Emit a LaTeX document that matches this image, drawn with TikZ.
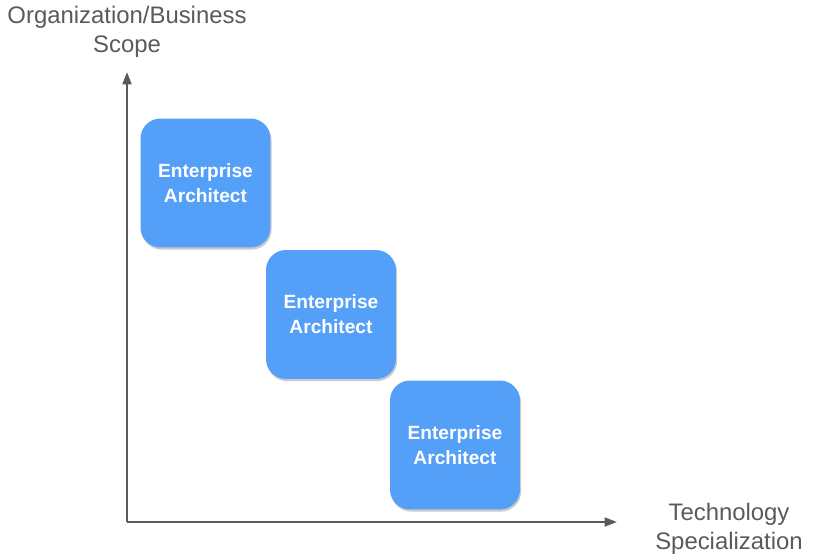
\documentclass[tikz,border=0pt]{standalone}
\usepackage{fontspec}
\setmainfont{Liberation Sans}
\usepackage{xcolor}
\definecolor{role}{RGB}{84,159,248}
\definecolor{axis}{RGB}{90,90,90}
\usepackage{tikz}
\usetikzlibrary{
    arrows.meta,
    positioning,
    shadows
}

\begin{document}
\begin{tikzpicture}[
        x=0.02cm, y=-0.02cm,
        rolebox/.style={rectangle, rounded corners=0.4cm, fill=role, text=white, minimum width=2.6cm, minimum height=2.58cm, align=center, font=\fontsize{10.9}{14.2}\selectfont\bfseries, drop shadow={shadow xshift=0.6pt, shadow yshift=-1.2pt, opacity=0.35, fill=black!60}},
        axislabel/.style={text=axis, align=center, font=\fontsize{13.6}{16.4}\selectfont}
    ]
        \useasboundingbox (0,0) rectangle (816,558);

        \coordinate (origin) at (127,522);
        \coordinate (ytip) at (127,72);
        \coordinate (xtip) at (617,522);

        \draw[-{Triangle[length=7pt, width=5pt]}, axis, line width=1.3pt] (origin) -- (ytip);
        \draw[-{Triangle[length=7pt, width=5pt]}, axis, line width=1.3pt] (origin) -- (xtip);

        \node[axislabel] (scope) at (127,32) {Organization/Business\\Scope};
        \node[axislabel] (tech) at (729,528.5) {Technology\\Specialization};

        \node[rolebox] (ea1) at (205.5,183) {Enterprise\\Architect};
        \node[rolebox] (ea2) at (331,314.5) {Enterprise\\Architect};
        \node[rolebox] (ea3) at (455,445) {Enterprise\\Architect};
    \end{tikzpicture}
\end{document}
